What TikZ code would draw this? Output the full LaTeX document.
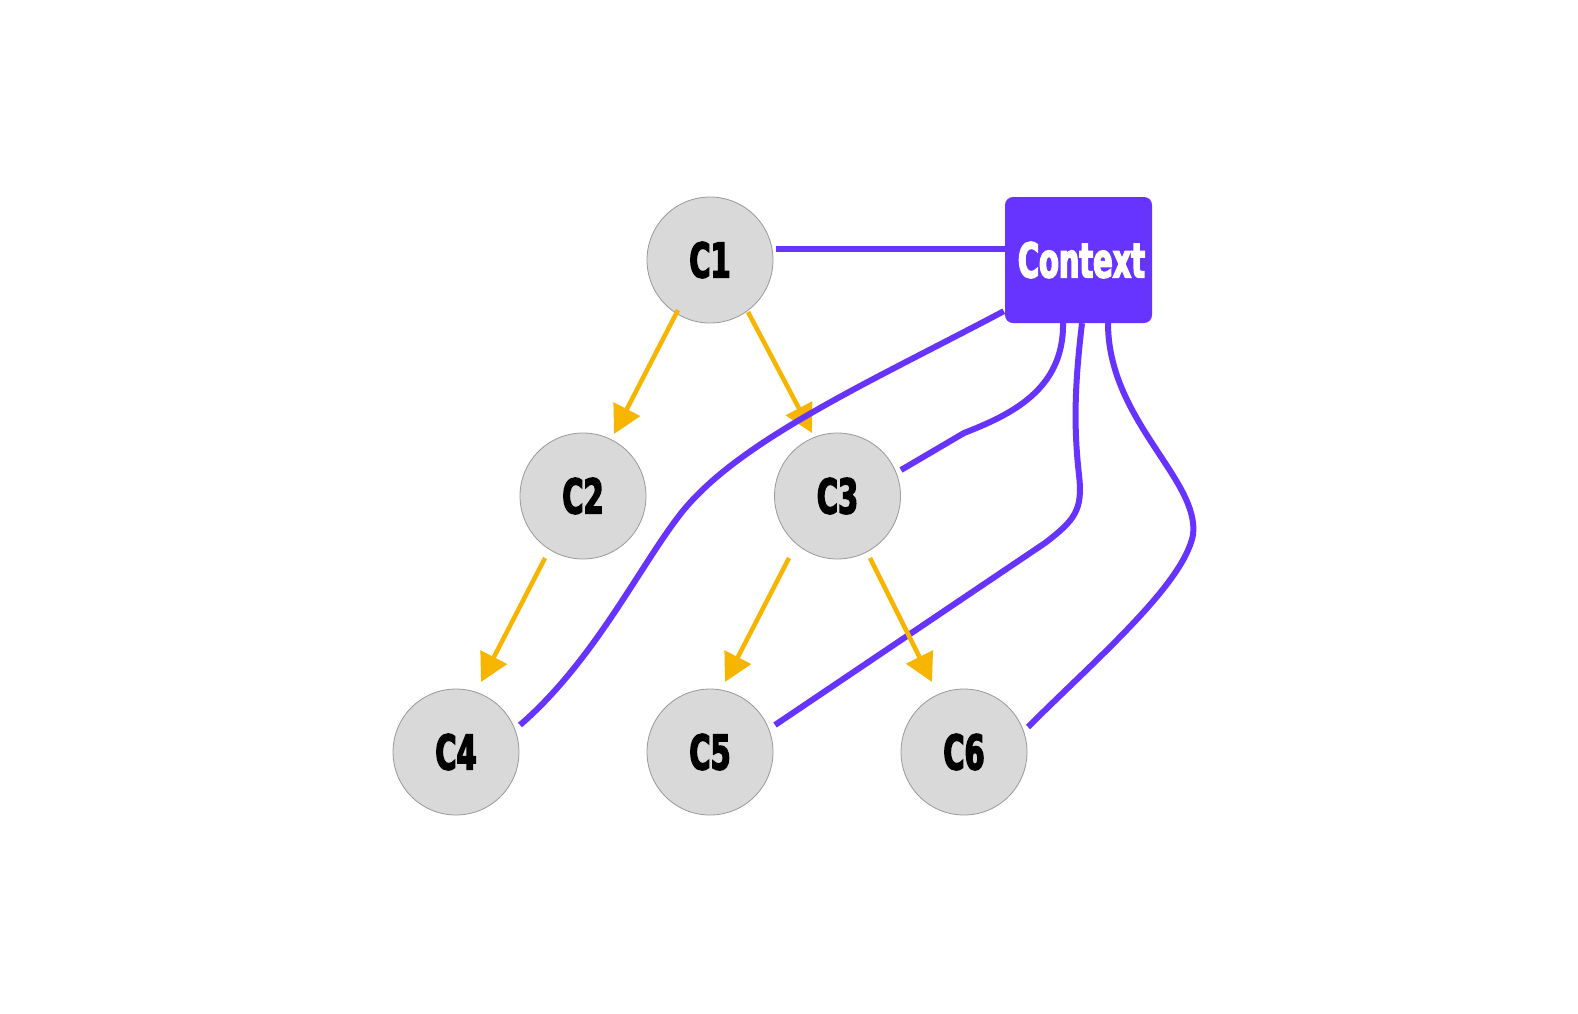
\documentclass[tikz,border=0pt]{standalone}
\usepackage{fontspec}
\newfontfamily\imp{DejaVu Sans}[FakeStretch=0.6, BoldFeatures={FakeBold=3}]
\usetikzlibrary{arrows.meta}
\definecolor{ctxc}{HTML}{6633FF}
\definecolor{orn}{HTML}{F7B500}
\definecolor{cfill}{HTML}{D9D9D9}
\definecolor{cline}{HTML}{999999}
\begin{document}
\begin{tikzpicture}[x=1pt,y=-1pt,
  cnode/.style={circle,draw=cline,line width=0.8pt,fill=cfill,minimum size=126pt,inner sep=0pt,
    font=\imp\bfseries\fontsize{48}{50}\selectfont},
  ctxbox/.style={rectangle,rounded corners=8pt,fill=ctxc,minimum width=147pt,minimum height=126pt,
    inner sep=0pt,text=white,font=\imp\bfseries\fontsize{48}{50}\selectfont},
  arr/.style={draw=orn,line width=4.5pt,-{Triangle[length=28pt,width=29pt]}},
  link/.style={draw=ctxc,line width=6pt}]
\useasboundingbox (0,0) rectangle (1578,1013);
\fill[white] (0,0) rectangle (1578,1013);

\node[cnode] (c1) at (710,260) {C1};
\node[cnode] (c2) at (583,496) {C2};
\node[cnode] (c3) at (837.5,496) {C3};
\node[cnode] (c4) at (456,752) {C4};
\node[cnode] (c5) at (710,752) {C5};
\node[cnode] (c6) at (964,752) {C6};
\node[ctxbox] (ctx) at (1078.5,260) {\kern6pt Context};

% purple links
\draw[link] ([shift={(3.5,0)}]ctx.south) .. controls (1074,390) and (1074,430) .. (1079,475)
  .. controls (1083,510) and (1075,520) .. (1045,543) -- ([shift={(65,-27)}]c5.center);
\draw[link] ([shift={(29.5,0)}]ctx.south) .. controls (1108,420) and (1200,480) .. (1193,535)
  .. controls (1183,585) and (1095,660) .. ([shift={(64,-25)}]c6.center);
\draw[link] ([shift={(-15.5,0)}]ctx.south) .. controls (1064,390) and (1010,415) .. (964,433)
  -- ([shift={(63.5,-26)}]c3.center);
\draw[link] ([shift={(3,-11.5)}]c1.east) -- ([shift={(0,-11.5)}]ctx.west);

% orange arrows
\draw[arr] ([shift={(-32,50)}]c1.center) -- ([shift={(31,-62)}]c2.center);
\draw[arr] ([shift={(38,52)}]c1.center) -- ([shift={(-25.5,-63)}]c3.center);
\draw[arr] ([shift={(-38,62)}]c2.center) -- ([shift={(25,-70)}]c4.center);
\draw[arr] ([shift={(-48.5,62)}]c3.center) -- ([shift={(15,-70)}]c5.center);
\draw[arr] ([shift={(32.5,62)}]c3.center) -- ([shift={(-32,-70)}]c6.center);

% link to C4 on top
\draw[link] ([shift={(-1,-12)}]ctx.south west) .. controls (870,382) and (740,440) .. (682,512)
  .. controls (640,565) and (595,660) .. ([shift={(64,-27)}]c4.center);
\end{tikzpicture}
\end{document}
